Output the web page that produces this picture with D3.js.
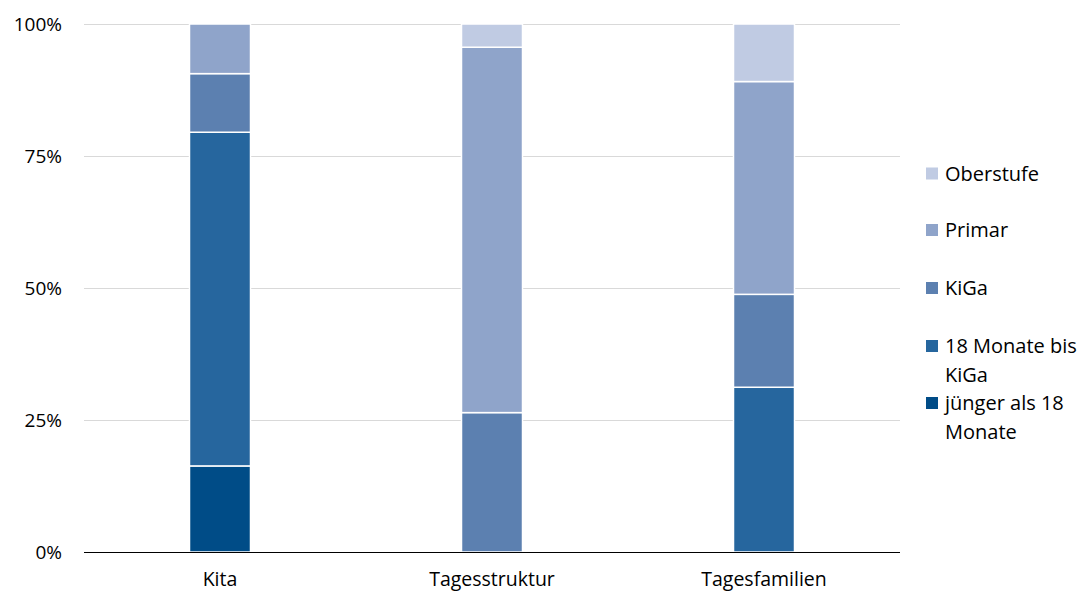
<!DOCTYPE html>
<html><head><meta charset="utf-8">
<script src="https://cdn.jsdelivr.net/npm/d3@7"></script>
<style>body{margin:0;background:#fff}svg{display:block}text{font-family:"Open Sans",sans-serif;fill:#000}</style>
</head><body><svg id="c" width="1086" height="593"></svg>
<script>
const categories = ["Kita", "Tagesstruktur", "Tagesfamilien"];
const seriesNames = ["jünger als 18 Monate", "18 Monate bis KiGa", "KiGa", "Primar", "Oberstufe"];
const jungerAls18 = [16.3, 0, 0];
const monate18BisKiGa = [63.2, 0, 31.2];
const kiga = [11.1, 26.4, 17.6];
const primar = [9.4, 69.2, 40.3];
const oberstufe = [0, 4.4, 10.9];
const yTicks = [0, 25, 50, 75, 100];
const colors = ["#004c87", "#26669e", "#5c80b0", "#8fa4ca", "#c0cbe3"];
const legendLines = [["Oberstufe"], ["Primar"], ["KiGa"], ["18 Monate bis", "KiGa"], ["jünger als 18", "Monate"]];

const seriesVals = [jungerAls18, monate18BisKiGa, kiga, primar, oberstufe];
const rows = categories.map((c, i) => {
  const r = {cat: c};
  seriesNames.forEach((s, j) => r[s] = seriesVals[j][i]);
  return r;
});
const stack = d3.stack().keys(seriesNames)(rows);

const svg = d3.select("#c");
const x = d3.scaleBand().domain(categories).range([84, 900]).paddingInner(0).paddingOuter(0);
const y = d3.scaleLinear().domain([0, 100]).range([552, 24]);
const barW = 61;

// gridlines
svg.append("g").selectAll("line").data(yTicks.filter(t => t > 0)).join("line")
  .attr("x1", 84).attr("x2", 900).attr("y1", d => y(d) + 0.5).attr("y2", d => y(d) + 0.5)
  .attr("stroke", "#d9d9d9").attr("stroke-width", 1);

// y labels
svg.append("g").selectAll("text").data(yTicks).join("text")
  .attr("x", 62).attr("y", d => y(d)).attr("dy", "0.35em").attr("text-anchor", "end")
  .style("font-size", "19px").text(d => d + "%");

// bars
svg.append("g").selectAll("g").data(stack).join("g")
  .attr("fill", (d, i) => colors[i])
  .selectAll("rect").data(d => d.filter(p => p[1] - p[0] > 0)).join("rect")
  .attr("x", d => x(d.data.cat) + x.bandwidth() / 2 - barW / 2)
  .attr("width", barW)
  .attr("y", d => y(d[1]))
  .attr("height", d => y(d[0]) - y(d[1]))
  .attr("stroke", "#fff").attr("stroke-width", 1.5);

// baseline
svg.append("line").attr("x1", 84).attr("x2", 900).attr("y1", y(0) + 0.5).attr("y2", y(0) + 0.5)
  .attr("stroke", "#000").attr("stroke-width", 1.2);

// x labels
svg.append("g").selectAll("text").data(categories).join("text")
  .attr("x", d => x(d) + x.bandwidth() / 2).attr("y", 586).attr("text-anchor", "middle")
  .style("font-size", "19.5px").text(d => d);

// legend
const legY = [173.5, 230, 288, 346, 403];
const legColors = [colors[4], colors[3], colors[2], colors[1], colors[0]];
const lg = svg.append("g");
legendLines.forEach((lines, i) => {
  lg.append("rect").attr("x", 926).attr("y", legY[i] - 6).attr("width", 12).attr("height", 12).attr("fill", legColors[i]);
  lines.forEach((t, k) => {
    lg.append("text").attr("x", 945).attr("y", legY[i] + k * 28.5).attr("dy", "0.35em")
      .style("font-size", "20px").text(t);
  });
});
</script></body></html>
